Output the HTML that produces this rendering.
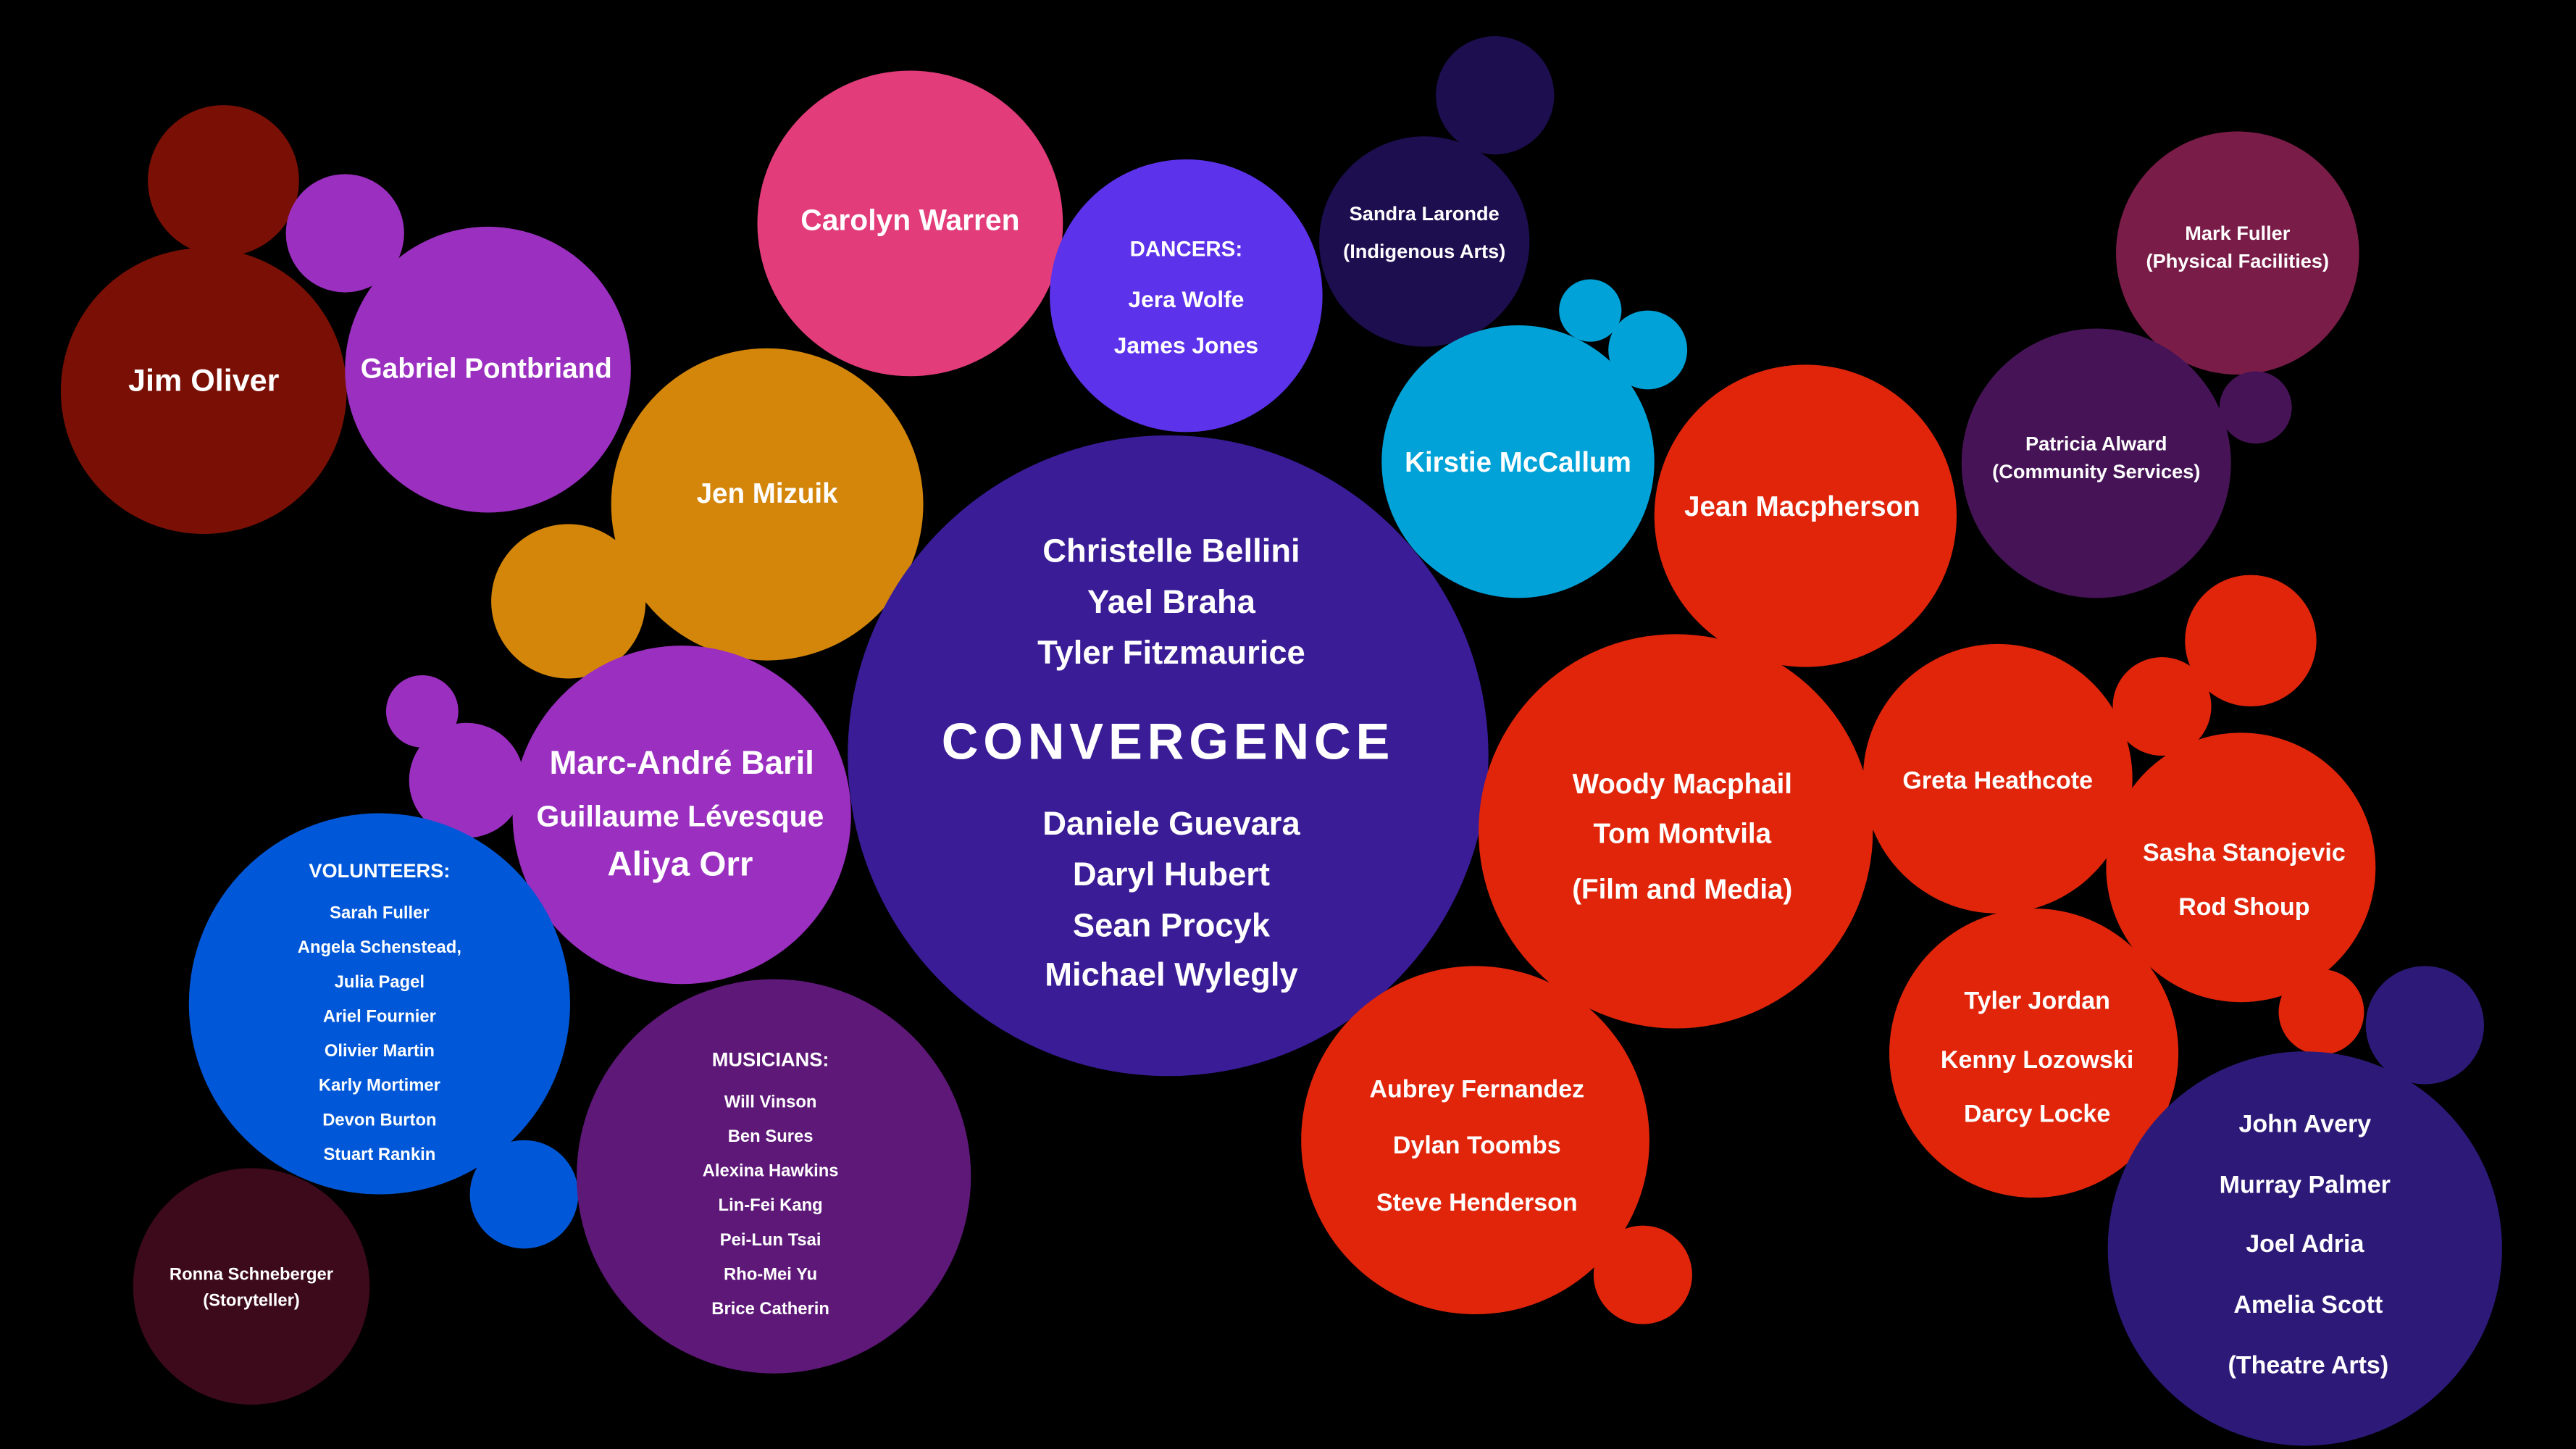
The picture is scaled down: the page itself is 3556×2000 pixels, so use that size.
<!DOCTYPE html>
<html><head><meta charset="utf-8"><style>
html,body{margin:0;padding:0;background:#000;}
svg{display:block;}
text{font-family:"Liberation Sans",sans-serif;font-weight:bold;fill:#fff;text-anchor:middle;}
</style></head><body>
<svg width="3556" height="2000" viewBox="0 0 1568 882" preserveAspectRatio="none" xmlns="http://www.w3.org/2000/svg">
<rect width="1568" height="882" fill="#000"/>
<!-- left cluster -->
<circle cx="136" cy="110" r="46" fill="#7a1005"/>
<circle cx="124" cy="238" r="87" fill="#7a1005"/>
<circle cx="210" cy="142" r="36" fill="#9a2fc0"/>
<circle cx="297" cy="225" r="87" fill="#9a2fc0"/>
<circle cx="554" cy="136" r="93" fill="#e23c7a"/>
<circle cx="722" cy="180" r="83" fill="#5c32ea"/>
<circle cx="910" cy="58" r="36" fill="#1d0e50"/>
<circle cx="867" cy="147" r="64" fill="#1d0e50"/>
<circle cx="968" cy="189" r="19" fill="#00a2d8"/>
<circle cx="1003" cy="213" r="24" fill="#00a2d8"/>
<circle cx="924" cy="281" r="83" fill="#00a2d8"/>
<circle cx="1362" cy="154" r="74" fill="#7a1c48"/>
<circle cx="1373" cy="248" r="22" fill="#461456"/>
<circle cx="1276" cy="282" r="82" fill="#461456"/>
<circle cx="1099" cy="314" r="92" fill="#e0250a"/>
<circle cx="346" cy="366" r="47" fill="#d4860a"/>
<circle cx="467" cy="307" r="95" fill="#d4860a"/>
<circle cx="711" cy="460" r="195" fill="#391c96"/>
<circle cx="257" cy="433" r="22" fill="#9a2fc0"/>
<circle cx="284" cy="475" r="35" fill="#9a2fc0"/>
<circle cx="415" cy="496" r="103" fill="#9a2fc0"/>
<circle cx="231" cy="611" r="116" fill="#0058d8"/>
<circle cx="319" cy="727" r="33" fill="#0058d8"/>
<circle cx="153" cy="783" r="72" fill="#3c0a1a"/>
<circle cx="471" cy="716" r="120" fill="#5e1878"/>
<circle cx="1020" cy="506" r="120" fill="#e0250a"/>
<circle cx="898" cy="694" r="106" fill="#e0250a"/>
<circle cx="1000" cy="776" r="30" fill="#e0250a"/>
<circle cx="1216" cy="474" r="82" fill="#e0250a"/>
<circle cx="1370" cy="390" r="40" fill="#e0250a"/>
<circle cx="1316" cy="430" r="30" fill="#e0250a"/>
<circle cx="1364" cy="528" r="82" fill="#e0250a"/>
<circle cx="1238" cy="641" r="88" fill="#e0250a"/>
<circle cx="1413" cy="616" r="26" fill="#e0250a"/>
<circle cx="1476" cy="624" r="36" fill="#2d1a78"/>
<circle cx="1403" cy="760" r="120" fill="#2d1a78"/>

<text x="124" y="238" font-size="19">Jim Oliver</text>
<text x="296" y="230" font-size="17">Gabriel Pontbriand</text>
<text x="554" y="140" font-size="18">Carolyn Warren</text>
<text x="722" y="156" font-size="13">DANCERS:</text>
<text x="722" y="187" font-size="14">Jera Wolfe</text>
<text x="722" y="215" font-size="14">James Jones</text>
<text x="867" y="134" font-size="12">Sandra Laronde</text>
<text x="867" y="157" font-size="12">(Indigenous Arts)</text>
<text x="924" y="287" font-size="17">Kirstie McCallum</text>
<text x="1362" y="146" font-size="12">Mark Fuller</text>
<text x="1362" y="163" font-size="12">(Physical Facilities)</text>
<text x="1276" y="274" font-size="12">Patricia Alward</text>
<text x="1276" y="291" font-size="12">(Community Services)</text>
<text x="1097" y="314" font-size="17">Jean Macpherson</text>
<text x="467" y="306" font-size="17">Jen Mizuik</text>
<text x="713" y="342" font-size="20">Christelle Bellini</text>
<text x="713" y="373" font-size="20">Yael Braha</text>
<text x="713" y="404" font-size="20">Tyler Fitzmaurice</text>
<text x="711" y="462" font-size="31" font-weight="900" letter-spacing="3">CONVERGENCE</text>
<text x="713" y="508" font-size="20">Daniele Guevara</text>
<text x="713" y="539" font-size="20">Daryl Hubert</text>
<text x="713" y="570" font-size="20">Sean Procyk</text>
<text x="713" y="600" font-size="20">Michael Wylegly</text>
<text x="415" y="471" font-size="20">Marc-André Baril</text>
<text x="414" y="503" font-size="18">Guillaume Lévesque</text>
<text x="414" y="533" font-size="21">Aliya Orr</text>
<g font-size="10.5">
<text x="231" y="534" font-size="12">VOLUNTEERS:</text>
<text x="231" y="559">Sarah Fuller</text>
<text x="231" y="580">Angela Schenstead,</text>
<text x="231" y="601">Julia Pagel</text>
<text x="231" y="622">Ariel Fournier</text>
<text x="231" y="643">Olivier Martin</text>
<text x="231" y="664">Karly Mortimer</text>
<text x="231" y="685">Devon Burton</text>
<text x="231" y="706">Stuart Rankin</text>
<text x="469" y="649" font-size="12">MUSICIANS:</text>
<text x="469" y="674">Will Vinson</text>
<text x="469" y="695">Ben Sures</text>
<text x="469" y="716">Alexina Hawkins</text>
<text x="469" y="737">Lin-Fei Kang</text>
<text x="469" y="758">Pei-Lun Tsai</text>
<text x="469" y="779">Rho-Mei Yu</text>
<text x="469" y="800">Brice Catherin</text>
<text x="153" y="779">Ronna Schneberger</text>
<text x="153" y="795">(Storyteller)</text>
</g>
<text x="1024" y="483" font-size="17">Woody Macphail</text>
<text x="1024" y="513" font-size="17">Tom Montvila</text>
<text x="1024" y="547" font-size="17">(Film and Media)</text>
<text x="899" y="668" font-size="15">Aubrey Fernandez</text>
<text x="899" y="702" font-size="15">Dylan Toombs</text>
<text x="899" y="737" font-size="15">Steve Henderson</text>
<text x="1216" y="480" font-size="15">Greta Heathcote</text>
<text x="1366" y="524" font-size="15">Sasha Stanojevic</text>
<text x="1366" y="557" font-size="15">Rod Shoup</text>
<text x="1240" y="614" font-size="15">Tyler Jordan</text>
<text x="1240" y="650" font-size="15">Kenny Lozowski</text>
<text x="1240" y="683" font-size="15">Darcy Locke</text>
<text x="1403" y="689" font-size="15">John Avery</text>
<text x="1403" y="726" font-size="15">Murray Palmer</text>
<text x="1403" y="762" font-size="15">Joel Adria</text>
<text x="1405" y="799" font-size="15">Amelia Scott</text>
<text x="1405" y="836" font-size="15">(Theatre Arts)</text>
</svg>
</body></html>
